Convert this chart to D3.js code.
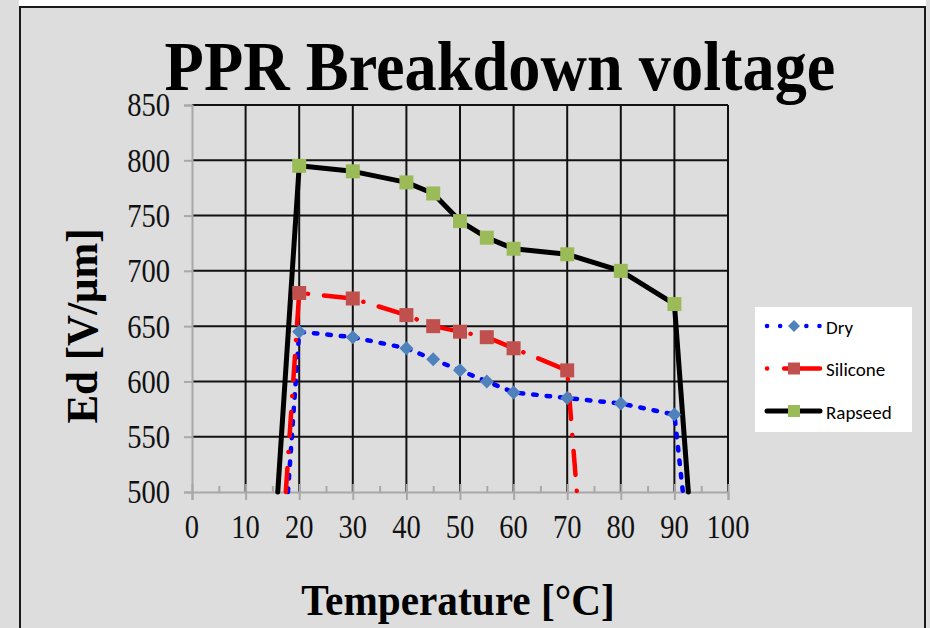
<!DOCTYPE html>
<html>
<head>
<meta charset="utf-8">
<script src="https://cdn.jsdelivr.net/npm/d3@7"></script>
<style>
  html, body { margin: 0; padding: 0; background: #dddddd; }
  svg { display: block; }
</style>
</head>
<body>
<svg id="chart" width="930" height="628"></svg>
<script>
// Temperature points (°C) and breakdown field (V/µm) for each insulation medium
const temps = [20, 30, 40, 45, 50, 55, 60, 70, 80, 90];
const dryValues = [645, 640, 630, 620, 610, 600, 590, 585, 580, 570];
const siliconeTemps = [20, 30, 40, 45, 50, 55, 60, 70];
const siliconeValues = [680, 675, 660, 650, 645, 640, 630, 610];
const rapseedValues = [795, 790, 780, 770, 745, 730, 720, 715, 700, 670];

// Where each curve leaves the bottom of the plot (temperature at 500 V/µm)
const dryEnds = [[17.9, 500], [91.6, 499]];
const siliconeEnds = [[17.5, 500], [71.8, 500]];
const rapseedEnds = [[16.0, 500], [92.6, 500]];

const xTicks = [0, 10, 20, 30, 40, 50, 60, 70, 80, 90, 100];
const yTicks = [500, 550, 600, 650, 700, 750, 800, 850];
const seriesNames = ["Dry", "Silicone", "Rapseed"];

const svg = d3.select("#chart");

// outer frame of the chart object
svg.append("rect").attr("x", 19).attr("y", 0).attr("width", 907).attr("height", 6).attr("fill", "#ffffff");
svg.append("rect").attr("x", 20).attr("y", 7).attr("width", 905).attr("height", 640)
  .attr("fill", "#dddddd").attr("stroke", "#1a1a1a").attr("stroke-width", 2);

const plot = { left: 192, right: 728, top: 105, bottom: 492 };
const x = d3.scaleLinear().domain([0, 100]).range([plot.left, plot.right]);
const y = d3.scaleLinear().domain([500, 850]).range([plot.bottom, plot.top]);

// gridlines
const grid = svg.append("g");
grid.selectAll("line.v").data(xTicks.slice(1)).join("line")
  .attr("x1", d => x(d)).attr("x2", d => x(d))
  .attr("y1", y(850)).attr("y2", y(500))
  .attr("stroke", "#111").attr("stroke-width", 2);
grid.selectAll("line.h").data(yTicks.slice(1)).join("line")
  .attr("x1", x(0)).attr("x2", x(100))
  .attr("y1", d => y(d)).attr("y2", d => y(d))
  .attr("stroke", "#111").attr("stroke-width", 2);

// axes
const axisColor = "#a8a8a8";
const yAxis = svg.append("g").attr("transform", `translate(${plot.left},0)`)
  .call(d3.axisLeft(y).tickValues(yTicks).tickSize(8).tickFormat(""));
const xAxis = svg.append("g").attr("transform", `translate(0,${plot.bottom})`)
  .call(d3.axisBottom(x).tickValues(xTicks).tickSize(8).tickFormat(""));
const xMinor = svg.append("g").attr("transform", `translate(0,${plot.bottom})`)
  .call(d3.axisTop(x).tickValues(d3.range(5, 100, 10)).tickSize(6).tickFormat(""));
const xMajorUp = svg.append("g").attr("transform", `translate(0,${plot.bottom})`)
  .call(d3.axisTop(x).tickValues(xTicks).tickSize(8).tickFormat(""));
[yAxis, xAxis, xMinor, xMajorUp].forEach(g => {
  g.selectAll("path").attr("stroke", axisColor).attr("stroke-width", 2);
  g.selectAll("line").attr("stroke", axisColor).attr("stroke-width", 2);
});
xMinor.select("path").remove();
xMajorUp.select("path").remove();

// tick labels (narrow serif numerals)
const serif = "'Liberation Serif', 'Times New Roman', serif";
svg.append("g").selectAll("text").data(yTicks).join("text")
  .attr("transform", d => `translate(170,${y(d)}) scale(0.84,1)`)
  .attr("text-anchor", "end").attr("dominant-baseline", "central")
  .attr("font-family", serif).attr("font-size", 34).attr("fill", "#111")
  .text(d => d);
svg.append("g").selectAll("text").data(xTicks).join("text")
  .attr("transform", d => `translate(${x(d)},527) scale(0.84,1)`)
  .attr("text-anchor", "middle").attr("dominant-baseline", "central")
  .attr("font-family", serif).attr("font-size", 34).attr("fill", "#111")
  .text(d => d);

// titles
svg.append("text").attr("transform", "translate(500,90) scale(0.99,1.06)").attr("text-anchor", "middle")
  .attr("font-family", serif).attr("font-weight", "bold").attr("font-size", 65)
  .attr("fill", "#000").text("PPR Breakdown voltage");
svg.append("text").attr("transform", "translate(458,615) scale(0.96,1.05)").attr("text-anchor", "middle")
  .attr("font-family", serif).attr("font-weight", "bold").attr("font-size", 43)
  .attr("fill", "#000").text("Temperature [°C]");
svg.append("text").attr("transform", "translate(97,326) rotate(-90) scale(1,1.05)").attr("text-anchor", "middle")
  .attr("font-family", serif).attr("font-weight", "bold").attr("font-size", 43)
  .attr("fill", "#000").text("Ed [V/μm]");

// series
svg.append("clipPath").attr("id", "plotClip").append("rect")
  .attr("x", plot.left).attr("y", plot.top - 20)
  .attr("width", plot.right - plot.left + 20).attr("height", plot.bottom - plot.top + 24);

const series = [
  { name: "Dry", pts: temps.map((t, i) => [t, dryValues[i]]), ends: dryEnds,
    line: "#0000ff", width: 4.5, dash: "3.5 10", legendDash: "0.1 13",
    marker: "diamond", fill: "#4f81bd", size: 12 },
  { name: "Silicone", pts: siliconeTemps.map((t, i) => [t, siliconeValues[i]]), ends: siliconeEnds,
    line: "#ff0000", width: 4.5, dash: "24 16 0.1 16", legendDash: "0.1 17 36 100",
    marker: "square", fill: "#c0504d", size: 14 },
  { name: "Rapseed", pts: temps.map((t, i) => [t, rapseedValues[i]]), ends: rapseedEnds,
    line: "#000000", width: 5, dash: null, legendDash: null,
    marker: "square", fill: "#9bbb59", size: 14 }
];

const lineGen = d3.line().x(d => x(d[0])).y(d => y(d[1]));
const markerPath = (shape, size) => shape === "diamond"
  ? `M0,${-size / 2 - 1}L${size / 2 + 1},0L0,${size / 2 + 1}L${-size / 2 - 1},0Z`
  : `M${-size / 2},${-size / 2}h${size}v${size}h${-size}Z`;

const seriesG = svg.append("g").attr("clip-path", "url(#plotClip)");
series.forEach(s => {
  const full = [s.ends[0], ...s.pts, s.ends[1]];
  seriesG.append("path").datum(full)
    .attr("d", lineGen).attr("fill", "none")
    .attr("stroke", s.line).attr("stroke-width", s.width)
    .attr("stroke-linecap", "round").attr("stroke-linejoin", "round")
    .attr("stroke-dasharray", s.dash);
});
series.forEach(s => {
  seriesG.append("g").selectAll("path").data(s.pts).join("path")
    .attr("transform", d => `translate(${x(d[0])},${y(d[1])})`)
    .attr("d", markerPath(s.marker, s.size)).attr("fill", s.fill);
});

// legend
const legend = svg.append("g");
legend.append("rect").attr("x", 755).attr("y", 307).attr("width", 157).attr("height", 125).attr("fill", "#ffffff");
series.forEach((s, i) => {
  const ly = 326 + i * 42.5;
  legend.append("line").attr("x1", 767).attr("x2", 820).attr("y1", ly).attr("y2", ly)
    .attr("stroke", s.line).attr("stroke-width", s.width)
    .attr("stroke-linecap", "round").attr("stroke-dasharray", s.legendDash);
  legend.append("path").attr("transform", `translate(794,${ly})`)
    .attr("d", markerPath(s.marker, s.size - 2)).attr("fill", s.fill);
  legend.append("text").attr("x", 826).attr("y", ly + 1).attr("dominant-baseline", "central")
    .attr("font-family", "Carlito, 'Open Sans', sans-serif").attr("font-size", 19)
    .attr("fill", "#000").text(seriesNames[i]);
});
</script>
</body>
</html>
